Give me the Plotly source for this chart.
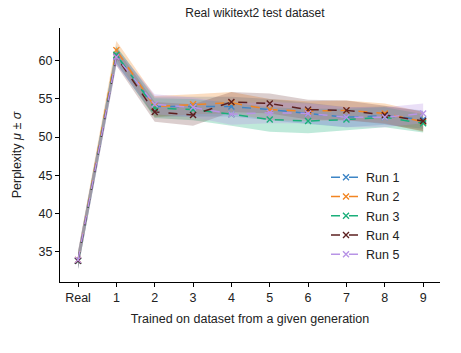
import plotly.graph_objects as go

generations = ["Real", "1", "2", "3", "4", "5", "6", "7", "8", "9"]
run_names = ["Run 1", "Run 2", "Run 3", "Run 4", "Run 5"]
run1_mean = [33.8, 60.7, 54.0, 54.0, 54.0, 53.6, 53.1, 52.6, 52.8, 52.3]
run2_mean = [33.9, 61.4, 54.0, 54.3, 54.5, 53.6, 53.4, 53.5, 53.1, 52.0]
run3_mean = [33.8, 60.8, 53.8, 53.6, 53.0, 52.3, 52.1, 52.3, 52.6, 51.8]
run4_mean = [33.8, 60.5, 53.3, 52.9, 54.6, 54.4, 53.6, 53.5, 52.9, 52.1]
run5_mean = [33.9, 60.5, 54.3, 53.9, 53.0, 53.2, 53.1, 52.6, 52.6, 53.1]
run1_std = [1.1, 1.1, 1.3, 1.3, 1.3, 1.4, 1.4, 1.3, 1.2, 1.2]
run2_std = [1.1, 1.2, 1.4, 1.3, 1.4, 1.4, 1.3, 1.3, 1.3, 1.3]
run3_std = [1.1, 1.1, 1.3, 1.4, 1.5, 1.6, 1.6, 1.4, 1.3, 1.2]
run4_std = [1.1, 1.1, 1.3, 1.4, 1.3, 1.3, 1.3, 1.3, 1.2, 1.3]
run5_std = [1.2, 1.1, 1.3, 1.3, 1.4, 1.4, 1.3, 1.3, 1.3, 1.3]
colors = ["#3d85c6", "#f28522", "#1aaf7a", "#5c2020", "#b894e6"]
fills = ["rgba(61,133,198,0.28)", "rgba(242,133,34,0.28)", "rgba(26,175,122,0.28)",
         "rgba(92,32,32,0.22)", "rgba(184,148,230,0.3)"]

means = [run1_mean, run2_mean, run3_mean, run4_mean, run5_mean]
stds = [run1_std, run2_std, run3_std, run4_std, run5_std]
xs = list(range(len(generations)))

fig = go.Figure()
for name, m, s, c, f in zip(run_names, means, stds, colors, fills):
    upper = [a + b for a, b in zip(m, s)]
    lower = [a - b for a, b in zip(m, s)]
    fig.add_trace(go.Scatter(x=xs + xs[::-1], y=upper + lower[::-1], fill="toself",
                             fillcolor=f, line=dict(width=0), hoverinfo="skip",
                             showlegend=False, mode="lines"))
for name, m, c in zip(run_names, means, colors):
    fig.add_trace(go.Scatter(x=xs, y=m, name=name, mode="lines+markers",
                             line=dict(color=c, width=1.5, dash="dash"),
                             marker=dict(symbol="x-thin", size=6, line=dict(color=c, width=1.4))))

font = "Liberation Sans, Arial, sans-serif"
fig.update_layout(
    width=461, height=353,
    margin=dict(l=60, r=21, t=28, b=71),
    paper_bgcolor="white", plot_bgcolor="white",
    font=dict(family=font, size=12, color="#222"),
    title=dict(text="Real wikitext2 test dataset", x=0.553, xanchor="center", y=0.965,
               yanchor="middle", font=dict(size=12)),
    legend=dict(x=0.7, y=0.47, xanchor="left", yanchor="top", bgcolor="rgba(0,0,0,0)",
                font=dict(size=12.5), tracegroupgap=0, itemwidth=30),
    showlegend=True,
)
fig.update_xaxes(range=[-0.47, 9.44], tickmode="array", tickvals=xs, ticktext=generations,
                 showgrid=False, zeroline=False, showline=True, linecolor="black", linewidth=1.3,
                 ticks="outside", ticklen=4, tickcolor="black", tickfont=dict(size=12.5),
                 title=dict(text="Trained on dataset from a given generation", standoff=10,
                            font=dict(size=12.5)))
fig.update_yaxes(range=[31, 64.3], tickvals=[35, 40, 45, 50, 55, 60],
                 showgrid=False, zeroline=False, showline=True, linecolor="black", linewidth=1.3,
                 ticks="outside", ticklen=4, tickcolor="black", tickfont=dict(size=12.5),
                 title=dict(text="Perplexity <i>μ</i> ± <i>σ</i>", standoff=14,
                            font=dict(size=12.5)))
fig.write_html("out.html")
